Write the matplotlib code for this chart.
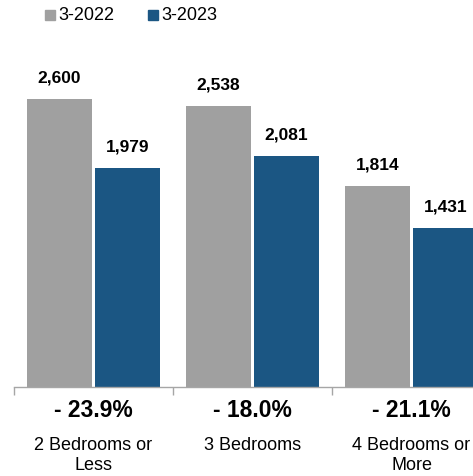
import matplotlib
matplotlib.use("Agg")
import matplotlib.pyplot as plt
from matplotlib.patches import Rectangle

plt.rcParams['font.family'] = ['Liberation Sans', 'DejaVu Sans']

categories = ["2 Bedrooms or\nLess", "3 Bedrooms", "4 Bedrooms or\nMore"]
series_names = ["3-2022", "3-2023"]
values_2022 = [2600, 2538, 1814]
values_2023 = [1979, 2081, 1431]
colors = ["#A0A0A0", "#1B5683"]

W, H = 473, 477
fig = plt.figure(figsize=(W / 100, H / 100), dpi=100)
ax_left, ax_right = 14, 473
base_y, top_y = 388, 40
ax = fig.add_axes([ax_left / W, (H - base_y) / H, (ax_right - ax_left) / W, (base_y - top_y) / H])

group_px = 159
ax.set_xlim(0, (ax_right - ax_left) / group_px)
scale = 288 / 2600  # px per unit
ax.set_ylim(0, (base_y - top_y) / scale)

bw = 0.41
offs = [0.2865, 0.7135]
for s, vals in enumerate([values_2022, values_2023]):
    for i, v in enumerate(vals):
        x = i + offs[s]
        ax.bar(x, v, width=bw, color=colors[s], clip_on=True)
        ax.annotate(f"{v:,}", (x, v), xytext=(0, 16), textcoords="offset points",
                    ha="center", va="center", fontsize=12.5, fontweight="bold",
                    annotation_clip=False)

for spine in ["top", "right", "left"]:
    ax.spines[spine].set_visible(False)
ax.spines["bottom"].set_color("#A6A6A6")
ax.spines["bottom"].set_linewidth(1.0)
ax.set_yticks([])
ax.set_xticks([0, 1, 2])
ax.set_xticklabels([])
ax.tick_params(axis="x", length=6, color="#A6A6A6", width=1.0)

for i, cat in enumerate(categories):
    pct = (values_2023[i] - values_2022[i]) / values_2022[i] * 100
    sign = "-" if pct < 0 else "+"
    ax.annotate(f"{sign} {abs(pct):.1f}%", (i + 0.5, 0), xycoords=("data", "axes fraction"),
                xytext=(0, -16), textcoords="offset points", ha="center", va="center",
                fontsize=16.5, fontweight="bold", annotation_clip=False)
    for j, line in enumerate(cat.split("\n")):
        ax.annotate(line, (i + 0.5, 0), xycoords=("data", "axes fraction"),
                    xytext=(0, -41.5 - 14.5 * j), textcoords="offset points", ha="center",
                    va="center", fontsize=13, annotation_clip=False)

# legend drawn in figure pixel coordinates
leg_items = [(45, 58), (148, 161)]
for (sq_x, tx), name, c in zip(leg_items, series_names, colors):
    fig.patches.append(Rectangle((sq_x / W, 1 - 21 / H), 10 / W, 10 / H,
                                 transform=fig.transFigure, color=c, figure=fig))
    fig.text(tx / W, 1 - 16 / H, name, ha="left", va="center", fontsize=13)

fig.savefig("out.png", dpi=100)
